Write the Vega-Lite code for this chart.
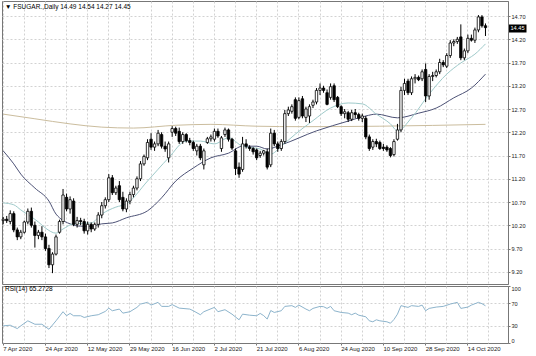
{
  "$schema": "https://vega.github.io/schema/vega-lite/v6.json",
  "padding": 0,
  "background": "white",
  "spacing": 0,
  "config": {
    "font": "Liberation Sans",
    "view": {"stroke": "#777777", "strokeWidth": 1},
    "axis": {"labelFont": "Liberation Sans", "labelFontSize": 6, "labelColor": "#222222", "domainColor": "#777777", "tickColor": "#777777", "gridColor": "#d2d2d2", "gridDash": [2, 2], "title": null},
    "title": {"font": "Liberation Sans", "fontSize": 6.5, "fontWeight": "normal", "color": "#000000", "anchor": "start", "frame": "group"}
  },
  "data": {"values": [
    {"d":"2020-04-07","o":10.30,"h":10.38,"l":10.22,"c":10.33,"m1":10.68,"m2":11.80,"m3":12.59,"r":30.1},
    {"d":"2020-04-08","o":10.33,"h":10.40,"l":10.25,"c":10.30},
    {"d":"2020-04-09","o":10.28,"h":10.52,"l":10.22,"c":10.45,"r":31.2},
    {"d":"2020-04-13","o":10.45,"h":10.50,"l":10.05,"c":10.10,"m1":10.64,"m2":11.52},
    {"d":"2020-04-14","o":10.10,"h":10.15,"l":9.88,"c":9.95,"r":25.3},
    {"d":"2020-04-15","o":9.95,"h":10.10,"l":9.90,"c":10.05,"m1":10.53,"m2":11.30,"r":30.1},
    {"d":"2020-04-16","o":10.05,"h":10.30,"l":10.02,"c":10.27},
    {"d":"2020-04-17","o":10.27,"h":10.56,"l":10.22,"c":10.50,"r":38.9},
    {"d":"2020-04-20","o":10.50,"h":10.58,"l":10.15,"c":10.20},
    {"d":"2020-04-21","o":10.20,"h":10.28,"l":9.72,"c":9.98,"m2":11.00,"m3":12.49,"r":32.9},
    {"d":"2020-04-22","o":9.98,"h":10.10,"l":9.90,"c":10.05,"m1":10.27},
    {"d":"2020-04-23","o":10.05,"h":10.18,"l":9.88,"c":9.95,"r":32.9},
    {"d":"2020-04-24","o":9.95,"h":10.02,"l":9.65,"c":9.70,"m1":10.14},
    {"d":"2020-04-27","o":9.70,"h":9.78,"l":9.28,"c":9.35,"m2":10.72,"r":24.1},
    {"d":"2020-04-28","o":9.35,"h":9.62,"l":9.17,"c":9.58},
    {"d":"2020-04-29","o":9.58,"h":10.00,"l":9.55,"c":9.95,"m1":10.03,"m2":10.44,"r":38.9},
    {"d":"2020-04-30","o":10.05,"h":10.32,"l":10.02,"c":10.28,"m2":10.36},
    {"d":"2020-05-01","o":10.28,"h":10.98,"l":10.22,"c":10.85,"m1":10.12,"r":54.9},
    {"d":"2020-05-04","o":10.80,"h":10.88,"l":10.50,"c":10.55,"r":47.8},
    {"d":"2020-05-05","o":10.55,"h":10.82,"l":10.45,"c":10.75,"m2":10.23,"m3":12.38,"r":51.9},
    {"d":"2020-05-06","o":10.72,"h":10.78,"l":10.18,"c":10.22,"m1":10.23,"r":47.8},
    {"d":"2020-05-07","o":10.22,"h":10.38,"l":10.15,"c":10.30},
    {"d":"2020-05-08","o":10.30,"h":10.36,"l":10.20,"c":10.28,"m2":10.18,"r":47.8},
    {"d":"2020-05-11","o":10.28,"h":10.34,"l":10.02,"c":10.08,"r":44.8},
    {"d":"2020-05-12","o":10.08,"h":10.28,"l":10.00,"c":10.22},
    {"d":"2020-05-13","o":10.22,"h":10.26,"l":10.05,"c":10.12,"m1":10.25,"m2":10.18,"r":47.8},
    {"d":"2020-05-14","o":10.12,"h":10.26,"l":10.08,"c":10.22},
    {"d":"2020-05-15","o":10.22,"h":10.48,"l":10.15,"c":10.42,"r":49.6},
    {"d":"2020-05-18","o":10.42,"h":10.70,"l":10.35,"c":10.62,"m1":10.44,"m2":10.23,"m3":12.31},
    {"d":"2020-05-19","o":10.62,"h":10.80,"l":10.56,"c":10.75,"r":55.4},
    {"d":"2020-05-20","o":10.75,"h":11.30,"l":10.70,"c":11.22,"r":61.2},
    {"d":"2020-05-21","o":11.22,"h":11.28,"l":10.85,"c":10.90,"m2":10.25,"r":56.6},
    {"d":"2020-05-22","o":10.90,"h":11.05,"l":10.85,"c":11.00,"m1":10.59},
    {"d":"2020-05-26","o":11.05,"h":11.15,"l":10.70,"c":10.75,"r":59.5},
    {"d":"2020-05-27","o":10.80,"h":10.92,"l":10.50,"c":10.55,"r":52.4},
    {"d":"2020-05-28","o":10.55,"h":10.78,"l":10.48,"c":10.72,"m1":10.66,"m2":10.36},
    {"d":"2020-05-29","o":10.72,"h":10.92,"l":10.65,"c":10.86,"r":54.9},
    {"d":"2020-06-01","o":10.86,"h":11.05,"l":10.80,"c":11.00,"m3":12.29},
    {"d":"2020-06-02","o":11.00,"h":11.25,"l":10.95,"c":11.20,"r":62.5},
    {"d":"2020-06-03","o":11.20,"h":11.58,"l":11.15,"c":11.52,"r":68.3},
    {"d":"2020-06-04","o":11.52,"h":11.72,"l":11.48,"c":11.68},
    {"d":"2020-06-05","o":11.65,"h":12.05,"l":11.60,"c":11.98,"m1":11.15,"m2":10.51,"r":71.3},
    {"d":"2020-06-08","o":12.05,"h":12.18,"l":11.82,"c":11.88,"r":66.5},
    {"d":"2020-06-09","o":11.88,"h":12.00,"l":11.80,"c":11.95},
    {"d":"2020-06-10","o":11.95,"h":12.25,"l":11.90,"c":12.18,"r":71.3},
    {"d":"2020-06-11","o":12.15,"h":12.20,"l":11.85,"c":11.90,"m2":10.79,"r":64.2},
    {"d":"2020-06-12","o":11.90,"h":12.00,"l":11.78,"c":11.84},
    {"d":"2020-06-15","o":11.65,"h":12.00,"l":11.55,"c":11.95,"m1":11.65,"r":64.2},
    {"d":"2020-06-16","o":12.20,"h":12.33,"l":12.10,"c":12.28,"r":67.3},
    {"d":"2020-06-17","o":12.28,"h":12.32,"l":12.12,"c":12.18,"m2":11.15,"m3":12.35},
    {"d":"2020-06-18","o":12.22,"h":12.30,"l":11.95,"c":12.00,"r":61.2},
    {"d":"2020-06-19","o":12.00,"h":12.20,"l":11.95,"c":12.15},
    {"d":"2020-06-22","o":12.15,"h":12.18,"l":11.98,"c":12.02,"m1":12.01},
    {"d":"2020-06-23","o":12.02,"h":12.08,"l":11.92,"c":11.98,"r":59.5},
    {"d":"2020-06-24","o":11.98,"h":12.02,"l":11.80,"c":11.85,"m2":11.43,"r":56.6},
    {"d":"2020-06-25","o":11.80,"h":11.95,"l":11.70,"c":11.90},
    {"d":"2020-06-26","o":11.90,"h":11.95,"l":11.60,"c":11.65,"m1":12.01,"r":49.6},
    {"d":"2020-06-29","o":11.50,"h":11.85,"l":11.40,"c":11.80,"r":54.9},
    {"d":"2020-06-30","o":11.98,"h":12.10,"l":11.95,"c":12.06},
    {"d":"2020-07-01","o":12.06,"h":12.15,"l":12.00,"c":12.10,"m2":11.65,"m3":12.37},
    {"d":"2020-07-02","o":12.05,"h":12.28,"l":12.00,"c":12.22,"m1":11.95,"r":62.5},
    {"d":"2020-07-06","o":12.22,"h":12.28,"l":12.08,"c":12.12,"r":54.9},
    {"d":"2020-07-07","o":11.85,"h":12.12,"l":11.78,"c":12.08},
    {"d":"2020-07-08","o":12.15,"h":12.30,"l":12.10,"c":12.25,"r":58.4},
    {"d":"2020-07-09","o":12.25,"h":12.28,"l":12.00,"c":12.05,"m1":12.08,"m2":11.75},
    {"d":"2020-07-10","o":12.05,"h":12.08,"l":11.82,"c":11.86,"r":50.6},
    {"d":"2020-07-13","o":11.80,"h":11.85,"l":11.28,"c":11.42},
    {"d":"2020-07-14","o":11.45,"h":11.55,"l":11.22,"c":11.30,"r":40.7},
    {"d":"2020-07-15","o":11.40,"h":12.10,"l":11.35,"c":11.95,"m1":11.90,"m2":11.90,"r":50.6},
    {"d":"2020-07-16","o":11.95,"h":12.05,"l":11.85,"c":11.90},
    {"d":"2020-07-17","o":11.88,"h":11.92,"l":11.80,"c":11.85,"r":48.8},
    {"d":"2020-07-20","o":11.85,"h":11.88,"l":11.72,"c":11.78},
    {"d":"2020-07-21","o":11.82,"h":11.85,"l":11.60,"c":11.65,"m2":11.90,"m3":12.33,"r":47.8},
    {"d":"2020-07-22","o":11.70,"h":11.80,"l":11.65,"c":11.75,"m1":11.84,"r":51.9},
    {"d":"2020-07-23","o":11.75,"h":11.82,"l":11.70,"c":11.80,"r":48.0},
    {"d":"2020-07-24","o":11.78,"h":11.85,"l":11.40,"c":11.45,"m2":11.84,"r":42.0},
    {"d":"2020-07-27","o":11.50,"h":12.28,"l":11.45,"c":12.18,"m1":11.73,"r":57.0},
    {"d":"2020-07-28","o":12.18,"h":12.25,"l":11.90,"c":11.95,"r":53.6},
    {"d":"2020-07-29","o":11.95,"h":12.00,"l":11.78,"c":11.85},
    {"d":"2020-07-30","o":11.85,"h":12.05,"l":11.80,"c":12.00,"m1":11.90,"m2":11.93,"r":56.6},
    {"d":"2020-07-31","o":12.00,"h":12.68,"l":11.95,"c":12.60,"r":64.2},
    {"d":"2020-08-03","o":12.60,"h":12.75,"l":12.55,"c":12.68},
    {"d":"2020-08-04","o":12.65,"h":12.80,"l":12.60,"c":12.75,"r":65.5},
    {"d":"2020-08-05","o":12.90,"h":12.95,"l":12.45,"c":12.50,"m1":12.16,"r":62.5},
    {"d":"2020-08-06","o":12.52,"h":12.95,"l":12.48,"c":12.88,"r":66.5},
    {"d":"2020-08-07","o":12.92,"h":12.98,"l":12.50,"c":12.55,"m3":12.32},
    {"d":"2020-08-10","o":12.52,"h":12.75,"l":12.42,"c":12.70,"r":59.5},
    {"d":"2020-08-11","o":12.55,"h":12.80,"l":12.40,"c":12.75,"r":56.6},
    {"d":"2020-08-12","o":12.78,"h":12.90,"l":12.72,"c":12.85,"m1":12.45,"r":60.7},
    {"d":"2020-08-13","o":12.85,"h":13.15,"l":12.80,"c":13.10,"m2":12.23},
    {"d":"2020-08-14","o":13.10,"h":13.25,"l":13.00,"c":13.15,"r":64.2},
    {"d":"2020-08-17","o":13.15,"h":13.20,"l":13.05,"c":13.10,"r":63.7},
    {"d":"2020-08-18","o":13.05,"h":13.12,"l":12.78,"c":12.80,"r":60.7},
    {"d":"2020-08-19","o":12.95,"h":13.25,"l":12.90,"c":13.18,"m1":12.72,"r":64.2},
    {"d":"2020-08-20","o":13.20,"h":13.25,"l":12.85,"c":12.90,"r":56.6},
    {"d":"2020-08-21","o":12.95,"h":12.98,"l":12.72,"c":12.75},
    {"d":"2020-08-24","o":12.75,"h":12.78,"l":12.55,"c":12.60,"r":53.6},
    {"d":"2020-08-25","o":12.60,"h":12.70,"l":12.50,"c":12.64},
    {"d":"2020-08-26","o":12.62,"h":12.66,"l":12.42,"c":12.48,"m1":12.83,"m2":12.44,"r":52.4},
    {"d":"2020-08-27","o":12.48,"h":12.68,"l":12.44,"c":12.62,"r":49.6},
    {"d":"2020-08-28","o":12.62,"h":12.70,"l":12.50,"c":12.58,"r":52.4},
    {"d":"2020-08-31","o":12.58,"h":12.62,"l":12.45,"c":12.50,"r":48.8},
    {"d":"2020-09-01","o":12.50,"h":12.60,"l":12.42,"c":12.55,"m1":12.81},
    {"d":"2020-09-02","o":12.50,"h":12.55,"l":12.05,"c":12.10,"m2":12.55,"r":46.0},
    {"d":"2020-09-03","o":12.10,"h":12.15,"l":11.80,"c":11.85,"r":38.9},
    {"d":"2020-09-04","o":11.88,"h":12.05,"l":11.82,"c":12.00,"r":37.2},
    {"d":"2020-09-08","o":12.00,"h":12.06,"l":11.88,"c":11.95,"m1":12.59,"m2":12.59,"r":40.7},
    {"d":"2020-09-09","o":11.98,"h":12.02,"l":11.82,"c":11.85,"m3":12.33,"r":38.9},
    {"d":"2020-09-10","o":11.88,"h":11.95,"l":11.80,"c":11.85},
    {"d":"2020-09-11","o":11.88,"h":11.92,"l":11.78,"c":11.82,"r":37.2},
    {"d":"2020-09-14","o":11.85,"h":11.88,"l":11.66,"c":11.70,"m1":12.38,"r":34.7},
    {"d":"2020-09-15","o":11.72,"h":12.05,"l":11.68,"c":12.00,"r":41.2},
    {"d":"2020-09-16","o":12.05,"h":12.38,"l":12.02,"c":12.25,"m1":12.23,"m2":12.51,"r":50.6},
    {"d":"2020-09-17","o":12.25,"h":13.18,"l":12.20,"c":13.10,"r":65.5},
    {"d":"2020-09-18","o":13.10,"h":13.35,"l":13.00,"c":13.25},
    {"d":"2020-09-21","o":13.30,"h":13.35,"l":13.00,"c":13.05,"r":62.5},
    {"d":"2020-09-22","o":13.05,"h":13.40,"l":13.00,"c":13.35,"m1":12.51,"r":65.5},
    {"d":"2020-09-23","o":13.35,"h":13.45,"l":13.25,"c":13.38},
    {"d":"2020-09-24","o":13.38,"h":13.42,"l":13.30,"c":13.33,"m2":12.61,"r":64.2},
    {"d":"2020-09-25","o":13.35,"h":13.55,"l":13.30,"c":13.50,"r":66.5},
    {"d":"2020-09-28","o":13.55,"h":13.68,"l":12.85,"c":12.98,"r":56.6},
    {"d":"2020-09-29","o":12.98,"h":13.45,"l":12.90,"c":13.40,"m1":13.02,"r":60.7},
    {"d":"2020-09-30","o":13.40,"h":13.50,"l":13.30,"c":13.42},
    {"d":"2020-10-01","o":13.42,"h":13.55,"l":13.38,"c":13.50,"m2":12.72,"r":63.0},
    {"d":"2020-10-02","o":13.50,"h":13.78,"l":13.45,"c":13.70},
    {"d":"2020-10-05","o":13.70,"h":13.75,"l":13.60,"c":13.65,"r":64.2},
    {"d":"2020-10-06","o":13.62,"h":13.90,"l":13.58,"c":13.85,"m1":13.45},
    {"d":"2020-10-07","o":13.85,"h":14.18,"l":13.80,"c":14.12,"r":68.3},
    {"d":"2020-10-08","o":14.12,"h":14.20,"l":14.05,"c":14.15,"m2":12.94},
    {"d":"2020-10-09","o":14.15,"h":14.25,"l":14.10,"c":14.20,"r":71.3},
    {"d":"2020-10-12","o":14.25,"h":14.52,"l":13.75,"c":13.80,"m1":13.69,"r":60.7},
    {"d":"2020-10-13","o":13.80,"h":14.00,"l":13.75,"c":13.95},
    {"d":"2020-10-14","o":13.95,"h":14.30,"l":13.90,"c":14.22,"r":63.0},
    {"d":"2020-10-15","o":14.22,"h":14.30,"l":14.15,"c":14.18,"m2":13.15,"r":66.5},
    {"d":"2020-10-16","o":14.18,"h":14.45,"l":14.12,"c":14.40,"m1":13.88},
    {"d":"2020-10-19","o":14.40,"h":14.72,"l":14.35,"c":14.68,"r":71.3},
    {"d":"2020-10-20","o":14.68,"h":14.72,"l":14.45,"c":14.49,"r":69.0},
    {"d":"2020-10-21","o":14.49,"h":14.54,"l":14.27,"c":14.45,"m1":14.10,"m2":13.45,"m3":12.37,"r":65.27}
  ]},
  "resolve": {"scale": {"x": "shared"}},
  "vconcat": [
    {
      "width": 506,
      "height": 283,
      "title": {"text": "▼ FSUGAR.,Daily  14.49 14.54 14.27 14.45", "offset": -9, "dx": 3},
      "encoding": {
        "x": {
          "field": "d", "type": "ordinal",
          "scale": {"domain": {"unionWith": ["2020-10-22", "2020-10-23", "2020-10-26", "2020-10-27", "2020-10-28", "2020-10-29"]}, "paddingInner": 0.32, "paddingOuter": 0.03, "align": 0},
          "axis": {"values": ["2020-04-07","2020-04-16","2020-04-24","2020-05-04","2020-05-12","2020-05-20","2020-05-29","2020-06-08","2020-06-16","2020-06-24","2020-07-02","2020-07-13","2020-07-21","2020-07-29","2020-08-06","2020-08-14","2020-08-24","2020-09-01","2020-09-10","2020-09-18","2020-09-28","2020-10-06","2020-10-14","2020-10-22"], "labels": false, "ticks": false, "domain": false, "grid": true}
        },
        "y": {"type": "quantitative",
          "scale": {"domain": [8.9366, 15.0226], "nice": false, "zero": false},
          "axis": {"orient": "right", "values": [9.2, 9.7, 10.2, 10.7, 11.2, 11.7, 12.2, 12.7, 13.2, 13.7, 14.2, 14.45, 14.7], "format": ".2f", "grid": true, "labelOverlap": false, "labelBound": false, "labelFlush": false, "labelFontSize": 5.6,
            "tickSize": {"condition": {"test": "datum.value == 14.45", "value": 18}, "value": 2},
            "tickWidth": {"condition": {"test": "datum.value == 14.45", "value": 8}, "value": 1},
            "tickColor": {"condition": {"test": "datum.value == 14.45", "value": "#000000"}, "value": "#777777"},
            "labelColor": {"condition": {"test": "datum.value == 14.45", "value": "#ffffff"}, "value": "#222222"},
            "labelPadding": {"condition": {"test": "datum.value == 14.45", "value": -16}, "value": 1},
            "gridOpacity": {"condition": {"test": "datum.value == 14.45", "value": 0}, "value": 1}}
        }
      },
      "layer": [
        {
          "transform": [{"filter": "isValid(datum.m3)"}],
          "mark": {"type": "line", "color": "#cbbd9e", "strokeWidth": 1, "interpolate": "monotone"},
          "encoding": {"y": {"field": "m3"}}
        },
        {
          "transform": [{"filter": "isValid(datum.m2)"}],
          "mark": {"type": "line", "color": "#4d5276", "strokeWidth": 1, "interpolate": "monotone"},
          "encoding": {"y": {"field": "m2"}}
        },
        {
          "transform": [{"filter": "isValid(datum.m1)"}],
          "mark": {"type": "line", "color": "#9fcaca", "strokeWidth": 1, "interpolate": "monotone"},
          "encoding": {"y": {"field": "m1"}}
        },
        {
          "mark": {"type": "rule", "color": "#000000", "strokeWidth": 1},
          "encoding": {"y": {"field": "l"}, "y2": {"field": "h"}}
        },
        {
          "mark": {"type": "bar", "stroke": "#000000", "strokeWidth": 0.8},
          "encoding": {
            "y": {"field": "o"},
            "y2": {"field": "c"},
            "fill": {"condition": {"test": "datum.c >= datum.o", "value": "#ffffff"}, "value": "#000000"}
          }
        }
      ]
    },
    {
      "width": 506,
      "height": 57,
      "title": {"text": "RSI(14) 65.2728", "offset": -7, "dx": 3},
      "transform": [{"filter": "isValid(datum.r)"}],
      "mark": {"type": "line", "color": "#8db4cc", "strokeWidth": 1},
      "encoding": {
        "x": {
          "field": "d", "type": "ordinal",
          "axis": {"values": ["2020-04-07","2020-04-16","2020-04-24","2020-05-04","2020-05-12","2020-05-20","2020-05-29","2020-06-08","2020-06-16","2020-06-24","2020-07-02","2020-07-13","2020-07-21","2020-07-29","2020-08-06","2020-08-14","2020-08-24","2020-09-01","2020-09-10","2020-09-18","2020-09-28","2020-10-06","2020-10-14","2020-10-22"],
            "labelExpr": "indexof(['2020-04-07','2020-04-24','2020-05-12','2020-05-29','2020-06-16','2020-07-02','2020-07-21','2020-08-06','2020-08-24','2020-09-10','2020-09-28','2020-10-14'], datum.value) >= 0 ? utcFormat(toDate(datum.value), '%-d %b %Y') : ''",
            "labelAngle": 0, "labelAlign": "left", "labelPadding": 0, "labelFontSize": 6, "labelOverlap": false, "labelBound": false,
            "tickSize": 2,
            "tickOpacity": {"condition": {"test": "indexof(['2020-04-07','2020-04-24','2020-05-12','2020-05-29','2020-06-16','2020-07-02','2020-07-21','2020-08-06','2020-08-24','2020-09-10','2020-09-28','2020-10-14'], datum.value) >= 0", "value": 1}, "value": 0},
            "domain": false, "grid": true}
        },
        "y": {
          "field": "r", "type": "quantitative",
          "scale": {"domain": [0, 100], "nice": false},
          "axis": {"orient": "right", "values": [0, 30, 70, 100], "labelFlush": true, "tickSize": 2, "labelPadding": 1, "labelFontSize": 5.6, "grid": true, "labelOverlap": false,
            "gridOpacity": {"condition": {"test": "datum.value == 30 || datum.value == 70", "value": 1}, "value": 0}}
        }
      }
    }
  ]
}
